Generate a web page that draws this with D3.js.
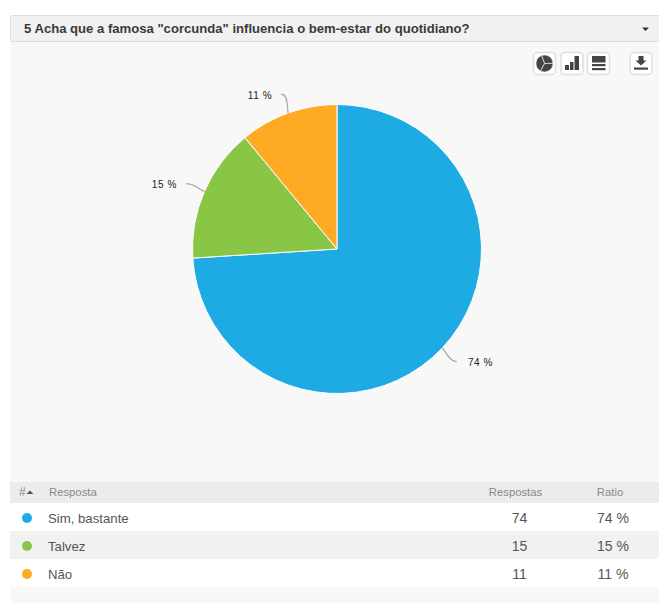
<!DOCTYPE html>
<html><head><meta charset="utf-8">
<script src="https://cdn.jsdelivr.net/npm/d3@7"></script>
<style>html,body{margin:0;padding:0;background:#fff}svg{display:block}text{font-family:"Liberation Sans",Arial,sans-serif}</style>
</head><body><div id="chart"></div>
<script>
const title = '5 Acha que a famosa "corcunda" influencia o bem-estar do quotidiano?';
const categories = ["Sim, bastante","Talvez","Não"];
const values = [74,15,11];
const ratios = ["74 %","15 %","11 %"];
const colors = ["#1eaae2","#8ac646","#ffaa25"];
const headers = ["Resposta","Respostas","Ratio"];

const W=659,H=603;
const svg=d3.select("#chart").append("svg").attr("width",W).attr("height",H);
// panel
svg.append("rect").attr("x",10).attr("y",41).attr("width",W-10).attr("height",H-41).attr("fill","#f8f8f8");
svg.append("rect").attr("x",10.5).attr("y",15.5).attr("width",W).attr("height",26).attr("rx",2)
  .attr("fill","#f1f1f1").attr("stroke","#dcdcdc");
svg.append("text").attr("x",24).attr("y",33).attr("font-size",13.1).attr("font-weight",700).attr("fill","#3a3a3a").text(title);
svg.append("path").attr("d",d3.line()([[642,27.5],[649,27.5],[645.5,31]])).attr("fill","#333");

// toolbar buttons
const btns=[544.5,572,598.5,641];
const bg=svg.append("g");
btns.forEach(x=>bg.append("rect").attr("x",x-11).attr("y",52.5).attr("width",22).attr("height",22).attr("rx",4)
  .attr("fill","#fff").attr("stroke","#dedede").attr("stroke-width",1.5));
const ink="#444";
// pie icon
const iconPie=d3.pie().sort(null).startAngle(-0.35).endAngle(2*Math.PI-0.35)([1,1.1,1.2]);
const iconArc=d3.arc().innerRadius(0).outerRadius(8.5);
bg.append("g").attr("transform","translate(544.5,63.5)").selectAll("path").data(iconPie).join("path").attr("d",iconArc).attr("fill",ink).attr("stroke","#fff").attr("stroke-width",0.6);
// bars icon
[[565,65,4,5],[570,62,3.5,8],[574.5,56,4.5,14]].forEach(b=>bg.append("rect").attr("x",b[0]).attr("y",b[1]).attr("width",b[2]).attr("height",b[3]).attr("fill",ink));
// table icon
[[592,56,13.5,6.5],[592,64,13.5,2.2],[592,68,13.5,2.2]].forEach(b=>bg.append("rect").attr("x",b[0]).attr("y",b[1]).attr("width",b[2]).attr("height",b[3]).attr("fill",ink));
// download icon
bg.append("path").attr("d","M638.5 56h5v4.5h3l-5.5 5l-5.5-5h3z").attr("fill",ink);
bg.append("rect").attr("x",634).attr("y",67.5).attr("width",14).attr("height",2.2).attr("fill",ink);

// pie
const cx=337,cy=249,r=144.5,lr=r+20;
const pie=d3.pie().sort(null).startAngle(0).endAngle(2*Math.PI);
const arcs=pie(values);
const arc=d3.arc().innerRadius(0).outerRadius(r);
const g=svg.append("g").attr("transform",`translate(${cx},${cy})`);
g.selectAll("path.s").data(arcs).join("path").attr("class","s").attr("d",arc)
 .attr("fill",(d,i)=>colors[i]).attr("stroke","#fff").attr("stroke-width",1).attr("stroke-linejoin","round");
arcs.forEach((d,i)=>{
  const a=(d.startAngle+d.endAngle)/2, s=Math.sin(a), c=Math.cos(a);
  const side=s>=0?1:-1;
  const y=-c*lr, x=side*Math.sqrt(lr*lr-y*y);
  const p0=[s*r,-c*r];
  const el=[x-side*5,y];
  g.append("path").attr("d",`M${p0[0]},${p0[1]}L${p0[0]+(el[0]-p0[0])*0.55},${p0[1]+(el[1]-p0[1])*0.55}Q${el[0]},${el[1]} ${x},${y}`)
   .attr("fill","none").attr("stroke","#aaa").attr("stroke-width",1.3);
  g.append("text").attr("x",x+side*(side>0?11:9)).attr("y",y+4.5).attr("text-anchor",side>0?"start":"end")
   .attr("font-size",10).attr("letter-spacing",0.6).attr("fill","#222").text(ratios[i]);
});

// table
const colX={resp:515.5,ratio:610};
svg.append("rect").attr("x",10).attr("y",482).attr("width",W-10).attr("height",21).attr("fill","#ececec");
svg.append("text").attr("x",19).attr("y",496).attr("font-size",12).attr("fill","#888").text("#");
svg.append("path").attr("d",d3.line()([[26.5,494],[33.5,494],[30,490.5]])).attr("fill","#555");
svg.append("text").attr("x",49).attr("y",496).attr("font-size",11.3).attr("fill","#888").text(headers[0]);
svg.append("text").attr("x",colX.resp).attr("y",496).attr("text-anchor","middle").attr("font-size",11.3).attr("fill","#888").text(headers[1]);
svg.append("text").attr("x",colX.ratio).attr("y",496).attr("text-anchor","middle").attr("font-size",11.3).attr("fill","#888").text(headers[2]);
const y0=503,rowH=28;
categories.forEach((cat,i)=>{
  const y=y0+i*rowH;
  svg.append("rect").attr("x",10).attr("y",y).attr("width",W-10).attr("height",rowH).attr("fill",i%2?"#f1f1f1":"#fff");
  svg.append("circle").attr("cx",27).attr("cy",y+15).attr("r",5).attr("fill",colors[i]);
  svg.append("text").attr("x",48).attr("y",y+20).attr("font-size",13.2).attr("fill","#555").text(cat);
  svg.append("text").attr("x",519.5).attr("y",y+19.5).attr("text-anchor","middle").attr("font-size",14).attr("fill","#555").text(values[i]);
  svg.append("text").attr("x",613).attr("y",y+19.5).attr("text-anchor","middle").attr("font-size",14).attr("fill","#555").text(ratios[i]);
});
</script></body></html>
